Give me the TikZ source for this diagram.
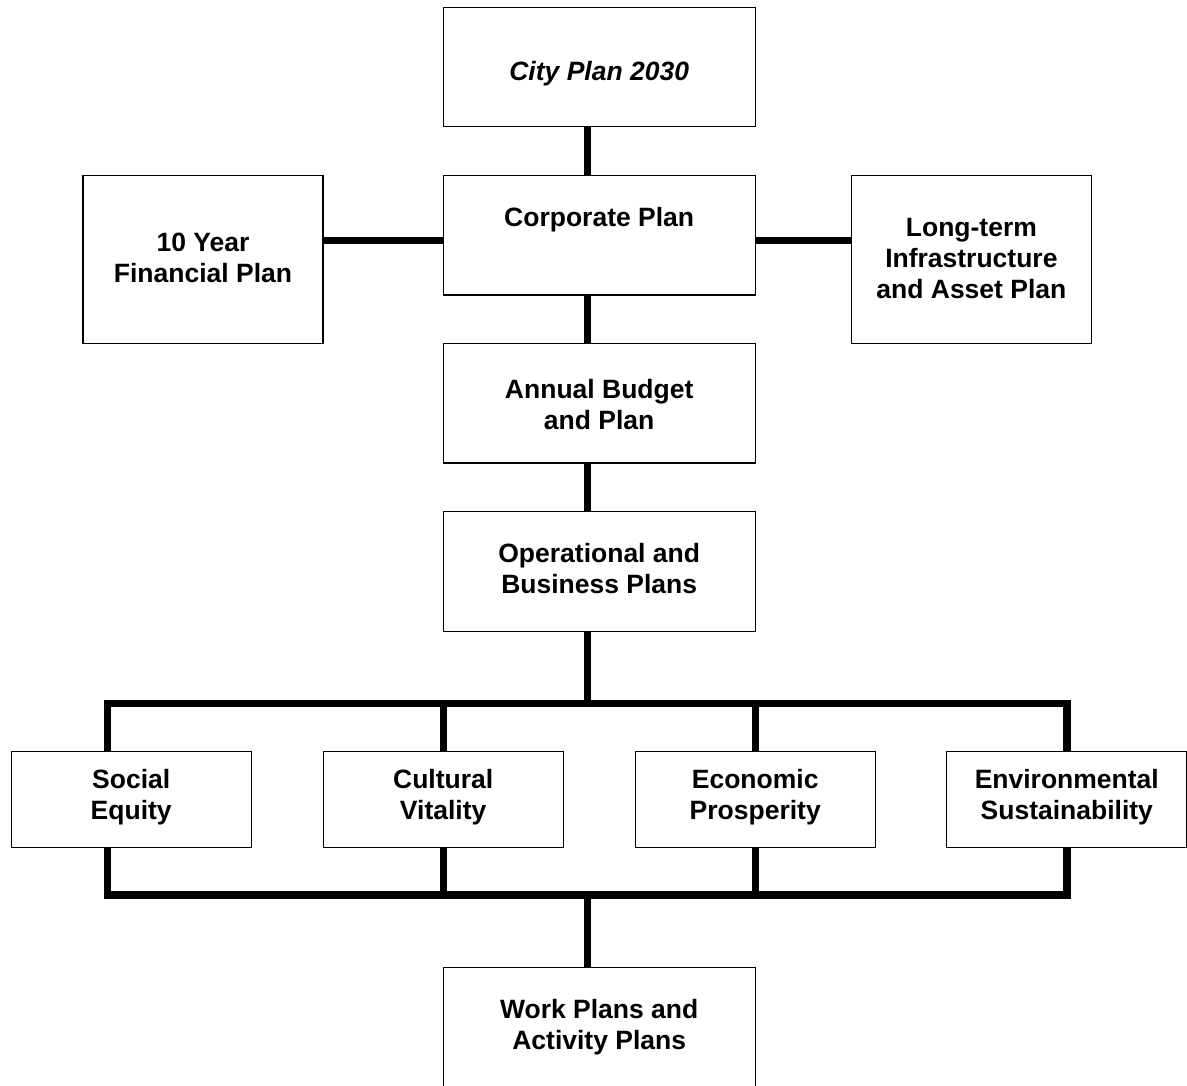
\documentclass[tikz,border=0pt]{standalone}
\usepackage{fontspec}
\setmainfont{Liberation Sans}
\usetikzlibrary{calc}
\pgfdeclarelayer{bg}
\pgfsetlayers{bg,main}
\newcommand{\mystrut}{\rule[-6pt]{0pt}{31pt}}
\begin{document}
\begin{tikzpicture}[x=1pt,y=-1pt,
  box/.style={draw=black, line width=1.3pt, fill=white, inner sep=0pt, rectangle},
  wide/.style={box, minimum width=312pt, minimum height=119.6pt},
  side/.style={box, minimum width=239.8pt, minimum height=167.8pt},
  pillar/.style={box, minimum width=240pt, minimum height=96.3pt},
  lbl/.style={inner sep=0pt, align=center, font=\bfseries\fontsize{26.5}{31.2}\selectfont},
  conn/.style={line width=7.3pt, line join=miter, line cap=butt}]
\useasboundingbox (0,0) rectangle (1187,1086);
\clip (0,0) rectangle (1187,1086);
% boxes
\node[wide] (city) at (599.2,67) {};
\node[wide] (corp) at (599.2,235.3) {};
\node[side] (fin) at (203,259.4) {};
\node[side] (lt) at (971.4,259.4) {};
\node[wide] (annual) at (599.2,403.1) {};
\node[wide] (oper) at (599.2,571.4) {};
\node[pillar] (social) at (131.2,799.4) {};
\node[pillar] (cult) at (443.2,799.4) {};
\node[pillar] (econ) at (755.2,799.4) {};
\node[pillar] (env) at (1066.8,799.4) {};
\node[wide] (work) at (599.2,1027.2) {};
% labels
\node[lbl] (cityT) at (599.2,70.8) {\mystrut\itshape City Plan 2030};
\node[lbl] (corpT) at (599.2,217) {\mystrut Corporate Plan};
\node[lbl] (finT) at (203,257.7) {\mystrut 10 Year\\\mystrut Financial Plan};
\node[lbl] (ltT) at (971.4,257.8) {\mystrut Long-term\\\mystrut Infrastructure\\\mystrut and Asset Plan};
\node[lbl] (annualT) at (599.2,404.3) {\mystrut Annual Budget\\\mystrut and Plan};
\node[lbl] (operT) at (599.2,568.3) {\mystrut Operational and\\\mystrut Business Plans};
\node[lbl] (socialT) at (131.2,794.3) {\mystrut Social\\\mystrut Equity};
\node[lbl] (cultT) at (443.2,794.3) {\mystrut Cultural\\\mystrut Vitality};
\node[lbl] (econT) at (755.2,794.3) {\mystrut Economic\\\mystrut Prosperity};
\node[lbl] (envT) at (1066.8,794.3) {\mystrut Environmental\\\mystrut Sustainability};
\node[lbl] (workT) at (599.2,1024.3) {\mystrut Work Plans and\\\mystrut Activity Plans};
% connector guides
\coordinate (cx) at (587.7,0);
\coordinate (sy) at (0,240.5);
\coordinate (busT) at (587.7,703.3);
\coordinate (busB) at (587.5,895);
\coordinate (busTL) at (107.5,703.3);
\coordinate (busTR) at (1067,703.3);
\coordinate (busBL) at (107.5,895);
\coordinate (busBR) at (1067,895);
\begin{pgfonlayer}{bg}
\draw[conn] (city.south -| cx) -- (corp.north -| cx);
\draw[conn] (fin.east |- sy) -- (corp.west |- sy);
\draw[conn] (corp.east |- sy) -- (lt.west |- sy);
\draw[conn] (corp.south -| cx) -- (annual.north -| cx);
\draw[conn] (annual.south -| cx) -- (oper.north -| cx);
\draw[conn] (oper.south -| cx) -- (busT);
\draw[conn] (busTL) -- (busTR) -- (busBR) -- (busBL) -- cycle;
\draw[conn] (cult.center |- busTL) -- (cult.center |- busBL);
\draw[conn] (econ.center |- busTL) -- (econ.center |- busBL);
\draw[conn] (busB) -- (work.north -| busB);
\end{pgfonlayer}
\end{tikzpicture}
\end{document}
